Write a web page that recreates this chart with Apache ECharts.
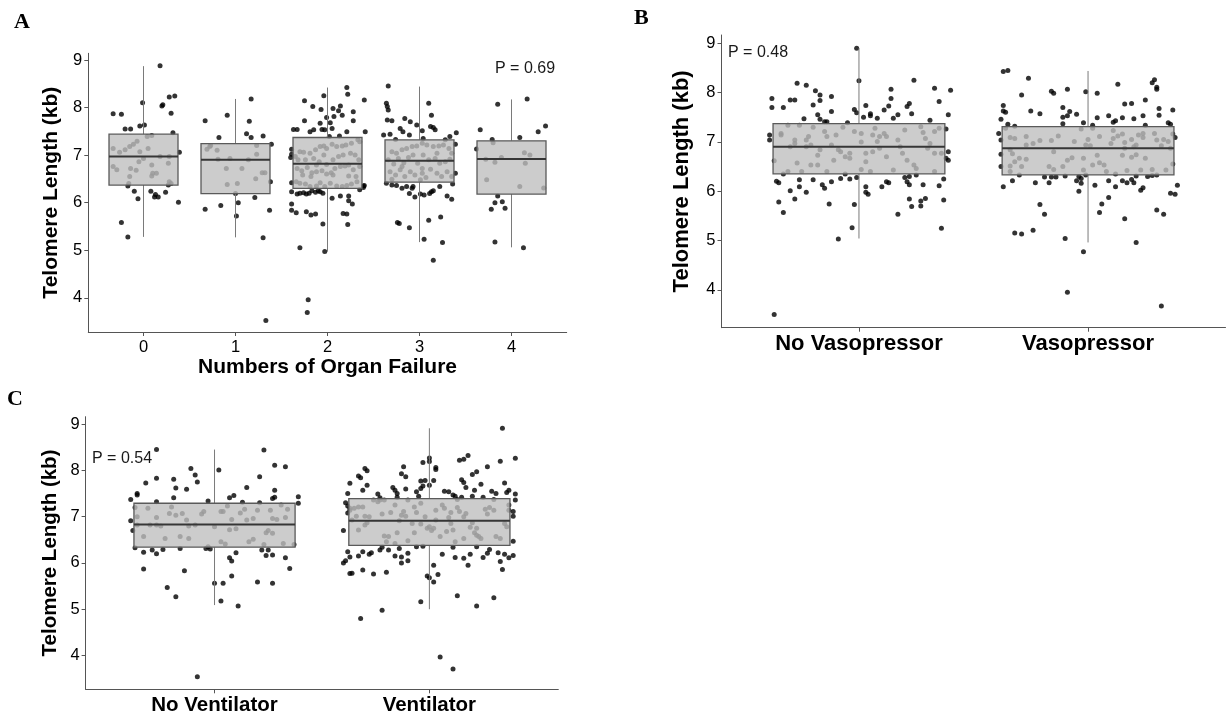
<!DOCTYPE html>
<html><head><meta charset="utf-8">
<script src="https://cdn.jsdelivr.net/npm/echarts@6/dist/echarts.min.js"></script>
<style>html,body{margin:0;padding:0;background:#fff}#c{width:1232px;height:719px}</style>
</head><body><div id="c"></div>
<script>
// ---------- categories and ticks ----------
const catsA = ['0', '1', '2', '3', '4'];
const catsB = ['No Vasopressor', 'Vasopressor'];
const catsC = ['No Ventilator', 'Ventilator'];
const yTicks = [4, 5, 6, 7, 8, 9];
const pTextA = 'P = 0.69';
const pTextB = 'P = 0.48';
const pTextC = 'P = 0.54';

// ---------- box statistics: [lower whisker, Q1, median, Q3, upper whisker] ----------
const boxA = [[5.28, 6.37, 6.97, 7.44, 8.87], [5.27, 6.19, 6.90, 7.24, 8.18], [4.97, 6.30, 6.82, 7.37, 8.42], [5.17, 6.43, 6.88, 7.32, 8.44], [5.06, 6.18, 6.92, 7.30, 8.17]];
const boxB = [[5.04, 6.35, 6.90, 7.37, 8.90], [4.96, 6.33, 6.87, 7.31, 8.44]];
const boxC = [[5.09, 6.34, 6.83, 7.29, 8.45], [5.00, 6.38, 6.91, 7.39, 8.91]];

// ---------- jittered observations: [horizontal jitter, telomere length kb] ----------
const ptsA0 = [[0.18,8.88],[-0.33,7.87],[-0.24,7.86],[-0.01,8.10],[0.20,8.03],[0.21,8.06],[0.28,8.22],[0.34,8.24],[0.30,7.88],[-0.20,7.55],[-0.14,7.55],[-0.04,7.61],[0.01,7.63],[0.32,7.47],[0.39,7.06],[-0.17,6.35],[-0.10,6.24],[-0.06,6.08],[0.08,6.24],[0.13,6.17],[0.12,6.12],[0.16,6.12],[0.24,6.22],[0.27,6.37],[0.38,6.01],[-0.24,5.58],[-0.17,5.28],[-0.16,6.40],
[-0.33,7.14],[-0.33,6.76],[-0.26,7.06],[-0.20,7.11],[-0.15,7.18],[-0.11,7.23],[-0.07,7.29],[0.04,7.39],[0.09,7.41],[0.00,6.93],[-0.05,6.86],[-0.14,6.72],[-0.15,6.55],[-0.08,6.68],[0.09,6.79],[0.10,6.62],[0.09,6.56],[0.18,6.97],[0.27,6.83],[0.28,6.97],[0.28,6.44],[0.30,6.40],[-0.04,7.07],[0.05,7.14],[-0.29,6.69],[0.14,6.62]];
const ptsA1 = [[0.17,8.18],[-0.33,7.72],[-0.09,7.84],[0.15,7.71],[-0.18,7.37],[0.12,7.45],[0.17,7.37],[0.30,7.40],[0.39,7.23],[0.38,6.44],[0.00,6.19],[0.21,6.11],[0.03,6.00],[-0.16,5.94],[-0.33,5.86],[0.37,5.84],[0.01,5.72],[0.30,5.26],[0.33,3.52],
[-0.31,7.12],[-0.28,7.18],[-0.27,7.20],[-0.19,6.91],[-0.06,6.93],[-0.10,6.72],[-0.09,6.38],[0.02,6.40],[0.14,6.90],[0.23,7.20],[0.23,7.02],[0.22,6.50],[0.29,6.63],[0.32,6.63],[-0.20,7.10],[0.07,6.72]];
const ptsA2 = [[0.21,8.42],[0.22,8.28],[-0.04,8.25],[0.40,8.16],[-0.25,8.14],[-0.16,8.02],[-0.07,7.96],[0.06,7.98],[0.14,8.03],[0.12,7.93],[0.28,7.91],[0.16,7.84],[0.07,7.81],[-0.01,7.79],[0.28,7.72],[-0.25,7.72],[-0.08,7.67],[0.03,7.68],[-0.06,7.54],[0.05,7.56],[0.21,7.49],[-0.37,7.54],[-0.33,7.54],[-0.19,7.49],[-0.15,7.53],[-0.03,7.53],[0.41,7.49],[0.02,7.39],[0.13,7.40],
[-0.39,6.23],[-0.33,6.18],[-0.30,6.20],[-0.26,6.21],[-0.23,6.18],[-0.20,6.20],[-0.17,6.25],[-0.13,6.22],[-0.10,6.25],[-0.08,6.23],[-0.05,6.20],[0.05,6.09],[0.14,6.14],[0.23,6.14],[0.39,6.35],[0.35,6.27],[0.23,6.04],[0.27,5.97],[-0.39,5.97],[-0.39,5.84],[-0.34,5.79],[-0.23,5.81],[-0.18,5.74],[-0.13,5.76],[0.17,5.77],[0.21,5.76],[0.22,5.54],[-0.05,5.55],[-0.30,5.05],[-0.03,4.97],[-0.21,3.96],[-0.22,3.69],
[-0.39,7.12],[-0.39,7.02],[-0.40,6.95],[-0.39,6.42],[0.40,6.36],[0.39,6.32],
[-0.30,7.07],[-0.26,7.06],[-0.19,7.04],[-0.13,7.11],[-0.08,7.18],[-0.04,7.19],[-0.01,7.14],[0.05,7.23],[0.10,7.18],[0.16,7.19],[0.20,7.21],[0.26,7.25],[0.33,7.32],[0.35,7.28],[-0.35,6.97],[-0.32,6.90],[-0.24,6.90],[-0.15,6.93],[-0.09,6.86],[-0.01,6.80],[0.06,6.90],[0.12,6.97],[0.17,7.00],[0.25,7.04],[0.30,7.00],[0.34,6.90],[-0.33,6.72],[-0.28,6.67],[-0.22,6.74],[-0.17,6.63],[-0.12,6.65],[-0.06,6.67],[-0.01,6.60],[0.04,6.63],[0.08,6.72],[0.14,6.76],[0.19,6.77],[0.23,6.79],[0.28,6.69],[0.35,6.76],[-0.34,6.44],[-0.30,6.41],[-0.24,6.39],[-0.19,6.34],[-0.12,6.35],[-0.08,6.42],[-0.03,6.34],[0.03,6.41],[0.10,6.35],[0.16,6.34],[0.21,6.36],[0.26,6.39],[0.32,6.44],[-0.27,6.58],[0.06,6.58],[-0.04,7.00],[-0.12,6.79],[-0.18,6.55],[0.23,6.56],[0.31,6.55]];
const ptsA3 = [[-0.34,8.45],[-0.36,8.09],[-0.35,8.02],[-0.34,7.95],[0.10,8.09],[0.13,7.84],[-0.35,7.74],[-0.30,7.72],[-0.16,7.77],[-0.10,7.70],[-0.03,7.63],[0.12,7.60],[0.15,7.58],[0.17,7.53],[0.03,7.51],[-0.21,7.56],[-0.18,7.49],[-0.39,7.42],[-0.32,7.44],[-0.26,7.33],[-0.11,7.42],[0.04,7.35],[0.33,7.39],[0.40,7.47],[0.28,7.32],[0.39,7.23],
[-0.36,6.41],[-0.30,6.37],[-0.25,6.36],[-0.19,6.30],[-0.14,6.34],[-0.08,6.30],[-0.07,6.34],[-0.11,6.19],[-0.05,6.12],[0.01,6.18],[0.05,6.16],[0.11,6.19],[0.13,6.23],[0.15,6.25],[0.22,6.34],[0.30,6.14],[0.35,6.07],[0.36,6.39],[0.39,6.62],[0.10,5.63],[0.23,5.70],[-0.24,5.58],[-0.22,5.56],[-0.11,5.47],[0.05,5.23],[0.25,5.16],[0.15,4.79],
[-0.30,7.07],[-0.25,7.04],[-0.19,7.11],[-0.14,7.14],[-0.08,7.18],[-0.03,7.19],[0.03,7.25],[0.08,7.21],[0.15,7.18],[0.21,7.19],[0.26,7.21],[0.32,7.14],[0.35,7.04],[-0.34,6.90],[-0.28,6.81],[-0.23,6.93],[-0.17,6.84],[-0.12,6.95],[-0.07,7.00],[-0.02,6.83],[0.04,7.00],[0.10,6.90],[0.17,6.93],[0.22,6.83],[0.28,6.86],[0.33,6.91],[-0.32,6.65],[-0.26,6.58],[-0.21,6.69],[-0.16,6.55],[-0.10,6.65],[-0.05,6.58],[0.03,6.62],[0.07,6.53],[0.12,6.70],[0.19,6.62],[0.24,6.55],[0.30,6.65],[0.35,6.55],[-0.30,6.49],[0.01,6.48],[-0.19,6.76],[0.19,7.04],[0.03,6.72]];
const ptsA4 = [[0.17,8.18],[-0.15,8.07],[0.37,7.61],[0.29,7.49],[-0.34,7.53],[0.09,7.37],[-0.21,7.33],[-0.38,7.13],[-0.15,6.14],[-0.18,6.00],[-0.10,6.02],[-0.22,5.86],[-0.07,5.88],[-0.18,5.17],[0.13,5.05],
[-0.20,7.26],[0.14,7.05],[0.20,7.00],[-0.11,6.95],[-0.18,6.85],[-0.28,6.91],[0.15,6.83],[-0.27,6.48],[0.09,6.34],[0.35,6.31]];

const ptsB0 = [[-0.01,8.90],[0.00,8.24],[-0.27,8.19],[-0.23,8.15],[0.24,8.25],[0.33,8.09],[0.40,8.05],[0.14,8.07],[-0.19,8.04],[-0.17,7.95],[-0.38,7.88],[-0.30,7.85],[-0.28,7.85],[-0.17,7.84],[-0.12,7.92],[0.14,7.88],[0.35,7.82],[0.22,7.78],[-0.38,7.70],[-0.33,7.70],[-0.20,7.75],[0.03,7.74],[0.21,7.72],[0.13,7.73],[-0.12,7.62],[-0.02,7.66],[0.11,7.65],[-0.18,7.55],[-0.24,7.47],[-0.17,7.46],[-0.15,7.41],[-0.14,7.41],[-0.05,7.39],[-0.01,7.59],[0.02,7.50],[0.05,7.53],[0.08,7.48],[0.05,7.57],[0.15,7.48],[0.17,7.55],[0.23,7.57],[0.31,7.44],[0.39,7.55],[0.38,7.26],[-0.39,7.14],[-0.39,7.04],[0.39,6.80],[0.38,6.67],[0.39,6.63],
[-0.36,6.20],[-0.35,6.17],[-0.33,6.35],[-0.26,6.23],[-0.26,6.09],[-0.30,6.01],[-0.23,5.98],[-0.20,6.23],[-0.16,6.13],[-0.15,6.06],[-0.12,6.19],[-0.08,6.26],[-0.06,6.35],[-0.04,6.25],[-0.01,6.28],[0.03,6.09],[0.04,5.94],[0.03,5.98],[0.10,6.09],[0.12,6.19],[0.13,6.17],[0.20,6.28],[0.21,6.19],[0.22,6.13],[0.22,6.30],[0.25,6.33],[0.28,6.13],[0.37,6.25],[0.35,6.11],[-0.35,5.78],[-0.33,5.57],[-0.28,5.84],[-0.13,5.74],[-0.02,5.73],[0.22,5.84],[0.23,5.69],[0.27,5.70],[0.29,5.85],[0.27,5.80],[0.37,5.82],[0.17,5.53],[-0.03,5.26],[-0.09,5.03],[0.36,5.25],[-0.37,3.50],
[-0.37,6.62],[-0.34,7.17],[-0.34,7.14],[-0.31,7.34],[-0.30,6.90],[-0.28,7.04],[-0.28,6.97],[-0.27,6.57],[-0.26,7.34],[-0.25,6.40],[-0.23,7.04],[-0.23,6.90],[-0.22,7.11],[-0.21,6.94],[-0.21,6.53],[-0.20,7.30],[-0.18,6.73],[-0.18,6.53],[-0.17,6.84],[-0.15,7.21],[-0.14,7.11],[-0.12,6.94],[-0.11,6.63],[-0.10,7.14],[-0.09,6.84],[-0.08,6.80],[-0.07,7.30],[-0.06,6.70],[-0.04,6.77],[-0.04,6.67],[-0.02,7.21],[0.01,7.17],[0.01,7.00],[0.01,6.44],[0.03,6.77],[0.03,6.60],[0.05,6.40],[0.06,6.80],[0.06,7.14],[0.07,7.28],[0.08,7.01],[0.09,7.11],[0.09,6.87],[0.11,7.17],[0.12,7.11],[0.12,6.70],[0.17,7.04],[0.18,6.90],[0.19,6.77],[0.20,7.24],[0.21,6.63],[0.24,6.53],[0.25,6.46],[0.27,7.31],[0.28,7.19],[0.29,7.07],[0.30,6.87],[0.31,6.97],[0.33,7.21],[0.33,6.77],[0.35,7.28],[0.36,6.77],[-0.31,6.40],[-0.14,6.40],[0.15,6.43],[0.33,6.40]];
const ptsB1 = [[-0.37,8.43],[-0.35,8.45],[-0.26,8.29],[-0.29,7.95],[-0.16,8.03],[-0.15,7.99],[-0.09,8.07],[-0.01,8.02],[0.04,7.99],[0.13,8.17],[0.28,8.20],[0.29,8.26],[0.30,8.11],[0.30,8.07],[0.16,7.77],[0.19,7.78],[0.25,7.85],[0.31,7.68],[0.37,7.65],[-0.37,7.74],[-0.37,7.63],[-0.36,7.60],[-0.25,7.63],[-0.21,7.57],[-0.11,7.70],[-0.08,7.62],[-0.11,7.50],[-0.09,7.53],[-0.05,7.56],[-0.38,7.46],[-0.35,7.36],[-0.32,7.32],[-0.11,7.37],[-0.02,7.39],[0.02,7.34],[0.04,7.49],[0.09,7.53],[0.11,7.40],[0.12,7.43],[0.15,7.49],[0.20,7.47],[0.24,7.53],[0.31,7.54],[0.35,7.39],[0.36,7.36],[0.25,7.34],[-0.39,7.17],[-0.38,7.04],[-0.38,6.75],[-0.38,6.50],[0.37,7.16],[0.38,7.09],[0.37,6.55],
[-0.37,6.09],[-0.33,6.21],[-0.30,6.33],[-0.23,6.17],[-0.19,6.29],[-0.17,6.17],[-0.16,6.29],[-0.14,6.29],[-0.10,6.31],[-0.05,6.21],[-0.04,6.30],[-0.03,6.16],[-0.03,6.26],[-0.04,6.00],[-0.01,6.33],[0.03,6.12],[0.09,6.21],[0.12,6.09],[0.15,6.21],[0.17,6.17],[0.20,6.17],[0.21,6.31],[0.19,6.24],[0.23,6.02],[0.24,6.07],[0.26,6.30],[0.28,6.32],[0.30,6.33],[0.39,6.12],[0.36,5.96],[0.38,5.94],[0.09,5.87],[0.06,5.74],[0.05,5.57],[-0.21,5.73],[-0.19,5.53],[0.16,5.44],[0.30,5.62],[0.33,5.53],[-0.32,5.15],[-0.29,5.13],[-0.24,5.21],[-0.10,5.04],[0.21,4.96],[-0.02,4.77],[-0.09,3.95],[0.32,3.67],
[-0.36,7.28],[-0.34,7.09],[-0.32,7.07],[-0.34,6.84],[-0.33,6.76],[-0.34,6.51],[-0.34,6.40],[-0.32,6.60],[-0.30,6.67],[-0.29,6.50],[-0.27,7.11],[-0.27,6.94],[-0.27,6.65],[-0.24,6.97],[-0.21,7.03],[-0.17,6.50],[-0.16,7.03],[-0.15,6.80],[-0.15,6.44],[-0.13,7.12],[-0.11,6.50],[-0.09,6.63],[-0.07,6.68],[-0.06,7.01],[-0.03,7.26],[-0.02,6.67],[-0.02,6.43],[0.00,7.05],[-0.01,6.94],[0.01,6.92],[0.02,7.28],[0.02,6.53],[0.04,6.73],[0.05,6.58],[0.07,6.53],[0.08,6.40],[0.10,6.97],[0.11,7.07],[0.11,7.23],[0.12,6.35],[0.13,7.12],[0.15,6.73],[0.15,7.16],[0.16,6.99],[0.16,6.87],[0.17,6.42],[0.19,6.69],[0.19,7.05],[0.20,6.90],[0.21,6.94],[0.22,7.14],[0.21,6.74],[0.23,6.43],[0.24,7.09],[0.25,6.67],[0.28,6.44],[0.29,7.17],[0.30,7.04],[0.32,6.92],[0.33,7.05],[0.34,6.43],[0.35,7.01],[0.36,6.87],[0.24,7.17],[0.05,7.11]];

const ptsC0 = [[-0.27,8.45],[0.23,8.44],[0.02,8.01],[-0.11,8.04],[0.28,8.11],[0.33,8.08],[-0.09,7.90],[-0.08,7.75],[-0.27,7.83],[-0.19,7.81],[0.21,7.86],[-0.32,7.73],[-0.18,7.62],[-0.13,7.59],[0.15,7.63],[0.28,7.57],[-0.36,7.50],[-0.36,7.47],[-0.19,7.41],[0.07,7.41],[0.09,7.46],[0.27,7.39],[0.28,7.42],[-0.39,7.37],[-0.27,7.32],[-0.03,7.34],[0.13,7.31],[0.21,7.30],[0.39,7.43],[0.39,7.29],[-0.39,6.91],[-0.38,6.70],
[-0.37,6.33],[-0.33,6.23],[-0.29,6.28],[-0.27,6.20],[-0.24,6.29],[-0.16,6.31],[-0.04,6.31],[-0.02,6.30],[0.10,6.22],[0.07,6.11],[0.08,6.04],[0.22,6.28],[0.24,6.16],[0.25,6.28],[0.27,6.17],[0.33,6.11],[0.37,6.40],[-0.33,5.87],[-0.14,5.83],[0.35,5.88],[0.08,5.72],[0.00,5.56],[0.04,5.56],[0.20,5.59],[0.27,5.56],[-0.22,5.47],[-0.18,5.27],[0.03,5.18],[0.11,5.07],[-0.08,3.54],
[-0.37,7.20],[-0.36,7.00],[-0.36,6.82],[-0.33,6.57],[-0.31,7.18],[-0.30,6.82],[-0.27,6.98],[-0.27,6.82],[-0.25,6.80],[-0.23,6.53],[-0.21,7.07],[-0.20,7.21],[-0.18,7.03],[-0.16,6.57],[-0.15,7.07],[-0.13,6.93],[-0.12,6.80],[-0.12,6.53],[-0.06,7.06],[-0.03,6.35],[0.00,6.78],[0.03,7.11],[0.03,6.46],[0.04,7.11],[0.05,6.41],[0.06,7.23],[0.07,6.72],[0.08,6.94],[0.10,6.74],[0.12,7.08],[0.14,7.16],[0.15,6.93],[0.16,6.46],[0.18,6.51],[0.20,7.14],[0.23,6.40],[0.24,6.65],[0.25,6.70],[0.26,7.14],[0.27,6.64],[0.27,6.96],[0.29,6.94],[0.31,7.25],[0.33,6.98],[0.34,7.16],[0.32,6.42],[-0.05,7.11],[-0.09,6.82],[0.18,6.96]];
const ptsC1 = [[0.34,8.91],[0.00,8.27],[0.00,8.19],[-0.03,8.17],[0.14,8.22],[0.16,8.24],[0.18,8.32],[0.33,8.20],[0.40,8.26],[0.03,8.06],[0.03,8.02],[-0.12,8.08],[-0.30,8.04],[-0.29,7.99],[0.27,8.08],[0.22,7.97],[0.20,7.91],[-0.13,7.93],[-0.11,7.86],[-0.33,7.88],[-0.32,7.84],[-0.37,7.72],[-0.29,7.68],[-0.31,7.57],[0.15,7.80],[0.16,7.74],[0.17,7.63],[0.24,7.70],[0.35,7.73],[-0.04,7.77],[-0.02,7.78],[0.00,7.68],[0.02,7.78],[-0.04,7.61],[-0.03,7.66],[-0.06,7.54],[-0.17,7.63],[-0.16,7.57],[-0.15,7.50],[-0.11,7.60],[-0.24,7.49],[-0.38,7.50],[-0.23,7.41],[-0.15,7.42],[-0.05,7.44],[0.07,7.55],[0.09,7.54],[0.11,7.47],[0.12,7.44],[0.15,7.42],[0.20,7.44],[0.21,7.57],[0.25,7.42],[0.29,7.55],[0.31,7.50],[0.36,7.52],[0.37,7.57],[0.40,7.49],[0.40,7.36],[-0.39,7.30],[-0.38,7.23],[-0.38,7.08],[-0.40,6.70],[0.39,7.11],[0.39,7.01],[0.39,6.47],
[-0.38,6.24],[-0.37,6.13],[-0.40,6.00],[-0.39,6.05],[-0.33,6.15],[-0.31,6.24],[-0.28,6.19],[-0.27,6.22],[-0.23,6.28],[-0.22,6.34],[-0.19,6.28],[-0.16,6.15],[-0.14,6.31],[-0.13,6.13],[-0.13,6.00],[-0.10,6.05],[-0.10,6.21],[-0.06,6.35],[-0.03,6.36],[0.06,6.19],[0.11,6.34],[0.12,6.12],[0.16,6.10],[0.18,5.95],[0.19,6.19],[0.22,6.35],[0.25,6.12],[0.27,6.21],[0.28,6.29],[0.32,6.22],[0.33,6.03],[0.34,5.86],[0.35,6.19],[0.37,6.11],[0.39,6.16],[-0.37,5.77],[-0.36,5.78],[-0.31,5.85],[-0.26,5.76],[-0.20,5.80],[0.02,5.95],[-0.01,5.72],[0.00,5.68],[0.02,5.59],[0.04,5.75],[0.13,5.29],[-0.04,5.16],[0.22,5.07],[0.30,5.25],[-0.22,4.98],[-0.32,4.80],[0.05,3.97],[0.11,3.71],
[-0.37,7.14],[-0.36,6.93],[-0.37,7.18],[-0.35,7.18],[-0.34,7.01],[-0.33,7.21],[-0.31,7.21],[-0.30,7.01],[-0.29,6.87],[-0.28,7.00],[-0.26,7.36],[-0.24,7.32],[-0.23,7.36],[-0.22,7.06],[-0.21,6.58],[-0.19,6.57],[-0.18,7.09],[-0.16,7.25],[-0.15,6.65],[-0.14,6.91],[-0.13,7.03],[-0.12,7.11],[-0.11,7.01],[-0.10,7.36],[-0.08,6.85],[-0.07,7.21],[-0.07,6.65],[-0.06,7.09],[-0.04,7.29],[-0.02,7.00],[-0.01,6.75],[0.00,6.78],[0.01,6.70],[0.02,6.75],[0.03,7.14],[0.05,6.57],[0.06,7.25],[0.07,7.18],[0.08,6.68],[0.09,6.98],[0.10,7.09],[0.10,6.85],[0.11,6.71],[0.13,7.20],[0.13,7.37],[0.14,7.11],[0.16,7.00],[0.16,6.53],[0.17,7.07],[0.19,6.77],[0.20,6.87],[0.21,6.65],[0.22,6.60],[0.23,6.57],[0.24,6.53],[0.26,7.16],[0.27,7.06],[0.28,7.20],[0.30,7.14],[0.31,6.57],[0.33,6.53],[0.35,6.85],[0.36,6.78],[0.37,7.25],[0.37,7.14],[-0.30,6.82],[-0.33,6.71],[-0.21,7.36],[0.03,6.93],[-0.04,6.84],[-0.16,6.42],[-0.20,6.46],[0.12,6.46],[0.22,6.75],[-0.10,6.48],[0.30,7.37]];

const groupsA = [ptsA0, ptsA1, ptsA2, ptsA3, ptsA4];
const groupsB = [ptsB0, ptsB1];
const groupsC = [ptsC0, ptsC1];

// ---------- chart ----------
const FONT = '"Liberation Sans", Arial, sans-serif';
const axisColor = '#555';

function flatten(groups) {
  const out = [];
  groups.forEach((g, i) => g.forEach(p => out.push([i + p[0], p[1]])));
  return out;
}
function xAxisCfg(gi, cats, labelSize, bold, margin, name) {
  const ticks = cats.map((c, i) => i);
  const cfg = {
    gridIndex: gi, type: 'value', min: -0.6, max: cats.length - 0.4,
    splitLine: { show: false },
    axisLine: { show: true, onZero: false, lineStyle: { color: axisColor, width: 1 } },
    axisTick: { show: true, length: 4, customValues: ticks, lineStyle: { color: axisColor } },
    axisLabel: { customValues: ticks, formatter: v => cats[Math.round(v)], fontSize: labelSize,
      fontWeight: bold ? 'bold' : 'normal', color: '#000', fontFamily: FONT, margin: margin }
  };
  if (name) {
    cfg.name = name; cfg.nameLocation = 'middle'; cfg.nameGap = 24;
    cfg.nameTextStyle = { fontSize: 21, fontWeight: 'bold', color: '#000', fontFamily: FONT };
  }
  return cfg;
}
function yAxisCfg(gi, min, max, nameSize, nameGap) {
  return {
    gridIndex: gi, type: 'value', min: min, max: max,
    splitLine: { show: false },
    axisLine: { show: true, onZero: false, lineStyle: { color: axisColor, width: 1 } },
    axisTick: { show: true, length: 4, customValues: yTicks, lineStyle: { color: axisColor } },
    axisLabel: { customValues: yTicks, fontSize: 16.5, color: '#000', fontFamily: FONT, margin: 6 },
    name: 'Telomere Length (kb)', nameLocation: 'middle', nameGap: nameGap,
    nameTextStyle: { fontSize: nameSize, fontWeight: 'bold', color: '#000', fontFamily: FONT }
  };
}
function scatterSeries(ai, groups) {
  return {
    type: 'scatter', xAxisIndex: ai, yAxisIndex: ai, z: 2, silent: true,
    symbol: 'circle', symbolSize: 5, itemStyle: { color: '#000' },
    data: flatten(groups)
  };
}
function boxSeries(ai, stats) {
  return {
    type: 'custom', xAxisIndex: ai, yAxisIndex: ai, z: 5, silent: true,
    data: stats.map((s, i) => [i].concat(s)),
    encode: { x: 0, y: [1, 2, 3, 4, 5] },
    renderItem: function (params, api) {
      const x = api.value(0);
      const lo = api.coord([x, api.value(1)]);
      const q1 = api.coord([x, api.value(2)]);
      const md = api.coord([x, api.value(3)]);
      const q3 = api.coord([x, api.value(4)]);
      const hi = api.coord([x, api.value(5)]);
      const hw = api.size([0.75, 0])[0] / 2;
      const wStyle = { stroke: '#7a7a7a', lineWidth: 1 };
      return {
        type: 'group', children: [
          { type: 'line', shape: { x1: hi[0], y1: hi[1], x2: q3[0], y2: q3[1] }, style: wStyle },
          { type: 'line', shape: { x1: q1[0], y1: q1[1], x2: lo[0], y2: lo[1] }, style: wStyle },
          { type: 'rect', shape: { x: q3[0] - hw, y: q3[1], width: 2 * hw, height: q1[1] - q3[1] },
            style: { fill: 'rgba(191,191,191,0.8)', stroke: '#5a5a5a', lineWidth: 1.3 } },
          { type: 'line', shape: { x1: md[0] - hw, y1: md[1], x2: md[0] + hw, y2: md[1] },
            style: { stroke: '#363636', lineWidth: 2 } }
        ]
      };
    }
  };
}

const chart = echarts.init(document.getElementById('c'), null, { renderer: 'canvas' });
chart.setOption({
  animation: false,
  backgroundColor: '#fff',
  grid: [
    { left: 88.3, top: 53.3, width: 478.4, height: 278.7 },
    { left: 721.5, top: 35, width: 504, height: 292.7 },
    { left: 85.6, top: 416.7, width: 472.7, height: 272.6 }
  ],
  xAxis: [
    xAxisCfg(0, catsA, 16.5, false, 7, 'Numbers of Organ Failure'),
    xAxisCfg(1, catsB, 22, true, 5, null),
    xAxisCfg(2, catsC, 20.5, true, 6, null)
  ],
  yAxis: [
    yAxisCfg(0, 3.28, 9.14, 21, 27),
    yAxisCfg(1, 3.23, 9.17, 22, 29),
    yAxisCfg(2, 3.27, 9.16, 20.5, 25)
  ],
  series: [
    scatterSeries(0, groupsA), boxSeries(0, boxA),
    scatterSeries(1, groupsB), boxSeries(1, boxB),
    scatterSeries(2, groupsC), boxSeries(2, boxC)
  ],
  graphic: [
    { type: 'text', left: 14, top: 11, style: { text: 'A', font: 'bold 22px "Liberation Serif", "Times New Roman", serif', fill: '#000' } },
    { type: 'text', left: 634, top: 7, style: { text: 'B', font: 'bold 22px "Liberation Serif", "Times New Roman", serif', fill: '#000' } },
    { type: 'text', left: 7, top: 388, style: { text: 'C', font: 'bold 22px "Liberation Serif", "Times New Roman", serif', fill: '#000' } },
    { type: 'text', left: 495, top: 61, style: { text: pTextA, font: '16px "Liberation Sans", Arial, sans-serif', fill: '#1a1a1a' } },
    { type: 'text', left: 728, top: 45, style: { text: pTextB, font: '16px "Liberation Sans", Arial, sans-serif', fill: '#1a1a1a' } },
    { type: 'text', left: 92, top: 451, style: { text: pTextC, font: '16px "Liberation Sans", Arial, sans-serif', fill: '#1a1a1a' } }
  ]
});
</script>
</body></html>
